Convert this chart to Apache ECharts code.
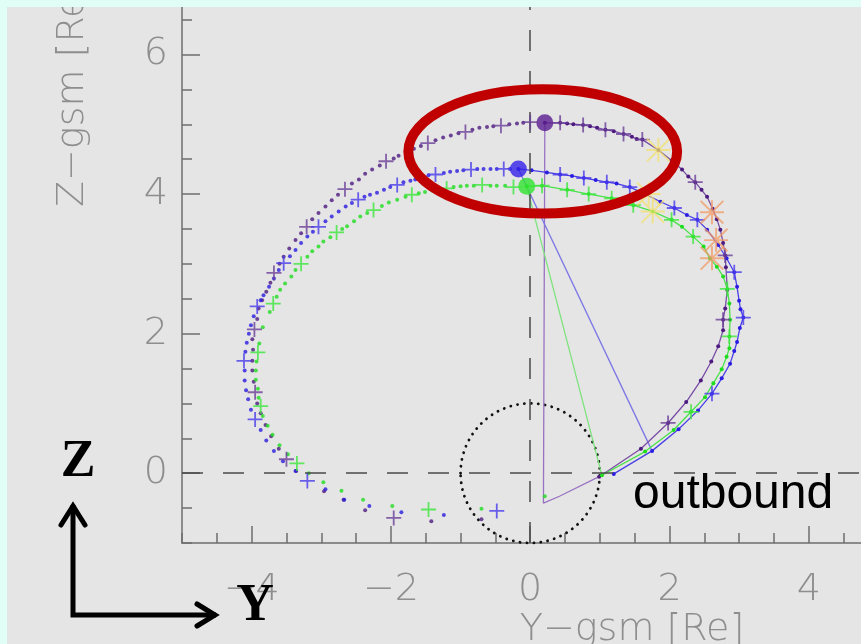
<!DOCTYPE html>
<html>
<head>
<meta charset="utf-8">
<script src="https://cdn.jsdelivr.net/npm/echarts@6/dist/echarts.min.js"></script>
<style>
  html, body { margin: 0; padding: 0; width: 861px; height: 644px; background: #e0fdf6; overflow: hidden; }
  #chart { position: absolute; left: 7px; top: 7px; width: 854px; height: 637px; }
</style>
</head>
<body>
<div id="chart"></div>
<script>
// Axis ranges and ticks (GSM coordinates, Earth radii)
const xRange = [-5, 4.75];
const yRange = [-1, 6.68];
const xMajorTicks = [-4, -2, 0, 2, 4];
const xMinorTicks = [-5, -4.5, -4, -3.5, -3, -2.5, -2, -1.5, -1, -0.5, 0, 0.5, 1, 1.5, 2, 2.5, 3, 3.5, 4, 4.5];
const yMajorTicks = [0, 2, 4, 6];
const yMinorTicks = [-1, -0.5, 0, 0.5, 1, 1.5, 2, 2.5, 3, 3.5, 4, 4.5, 5, 5.5, 6, 6.5];

// Orbit 1 (purple): connected outbound arc, then the loose dots
const purpleArc = [
  [0.99, -0.05], [1.59, 0.35], [1.98, 0.72], [2.24, 1.02], [2.45, 1.33], [2.60, 1.60], [2.70, 1.82],
  [2.77, 2.05], [2.77, 2.20], [2.80, 2.36], [2.83, 2.63], [2.81, 2.95], [2.80, 3.12], [2.77, 3.30],
  [2.73, 3.49], [2.68, 3.64], [2.62, 3.79], [2.54, 3.96], [2.46, 4.06], [2.37, 4.17], [2.27, 4.25],
  [2.18, 4.35], [2.03, 4.48], [1.84, 4.63], [1.61, 4.78], [1.53, 4.79], [1.46, 4.82], [1.34, 4.86],
  [1.20, 4.90], [1.08, 4.92], [0.96, 4.95], [0.86, 4.97], [0.76, 4.99], [0.62, 5.00], [0.53, 5.01],
  [0.43, 5.02], [0.21, 5.02]
];
const purpleDots = [
  [-0.10, 5.02], [-0.19, 5.01], [-0.30, 5.00], [-0.53, 4.97], [-0.62, 4.96], [-0.73, 4.95], [-0.83, 4.92],
  [-1.03, 4.87], [-1.14, 4.84], [-1.25, 4.81], [-1.36, 4.77], [-1.57, 4.69], [-1.67, 4.65], [-1.78, 4.61],
  [-1.89, 4.55], [-1.96, 4.51], [-2.16, 4.41], [-2.27, 4.35], [-2.37, 4.29], [-2.46, 4.21], [-2.56, 4.15],
  [-2.76, 3.99], [-2.85, 3.91], [-2.94, 3.82], [-3.04, 3.73], [-3.13, 3.64], [-3.29, 3.44], [-3.37, 3.34],
  [-3.46, 3.22], [-3.54, 3.10], [-3.60, 3.00], [-3.73, 2.73], [-3.79, 2.60], [-3.85, 2.48], [-3.90, 2.36],
  [-3.92, 2.21], [-3.99, 1.92], [-3.98, 1.77], [-3.99, 1.61], [-3.99, 1.47], [-3.97, 1.31], [-3.92, 1.00],
  [-3.87, 0.86], [-3.80, 0.69], [-3.72, 0.53], [-3.61, 0.35], [-3.36, 0.03], [-2.96, -0.26], [-2.68, -0.38],
  [-2.37, -0.53], [-1.42, -0.69], [-0.70, -0.66]
];
const purplePlus = [
  [1.98, 0.72], [2.77, 2.20], [2.80, 3.12], [2.37, 4.17], [1.61, 4.78], [1.34, 4.86], [1.08, 4.92],
  [0.76, 4.99], [0.43, 5.02], [0.00, 5.03], [-0.42, 4.98], [-0.93, 4.89], [-1.47, 4.73], [-2.07, 4.47],
  [-2.66, 4.07], [-3.21, 3.53], [-3.68, 2.87], [-3.96, 2.06], [-3.95, 1.16], [-3.50, 0.20], [-1.96, -0.64]
];
const purpleMark = [[0.21, 5.02]];
const purpleTrace = [[0.21, 5.02], [0.19, -0.43], [0.42, -0.33], [0.99, -0.05]];

// Orbit 2 (blue)
const blueArc = [
  [1.20, -0.01], [1.75, 0.32], [2.13, 0.63], [2.41, 0.90], [2.61, 1.14], [2.75, 1.36], [2.87, 1.57],
  [2.93, 1.75], [2.97, 1.88], [3.01, 2.08], [3.06, 2.23], [3.02, 2.35], [3.00, 2.47], [2.97, 2.67],
  [2.93, 2.88], [2.82, 3.08], [2.70, 3.27], [2.54, 3.49], [2.40, 3.63], [2.25, 3.70], [2.07, 3.80],
  [1.87, 3.89], [1.63, 4.01], [1.43, 4.10], [1.24, 4.15], [1.10, 4.17], [0.94, 4.20], [0.77, 4.23],
  [0.60, 4.26], [0.43, 4.28], [0.24, 4.31], [0.02, 4.34], [-0.17, 4.36]
];
const blueDots = [
  [-0.29, 4.36], [-0.48, 4.36], [-0.57, 4.36], [-0.67, 4.36], [-0.76, 4.36], [-0.96, 4.34], [-1.05, 4.33],
  [-1.15, 4.32], [-1.24, 4.30], [-1.46, 4.27], [-1.55, 4.25], [-1.65, 4.21], [-1.72, 4.19], [-1.82, 4.17],
  [-2.01, 4.10], [-2.10, 4.06], [-2.20, 4.02], [-2.30, 3.99], [-2.38, 3.96], [-2.56, 3.87], [-2.65, 3.82],
  [-2.75, 3.75], [-2.85, 3.68], [-2.94, 3.61], [-3.12, 3.46], [-3.20, 3.39], [-3.29, 3.30], [-3.37, 3.20],
  [-3.45, 3.11], [-3.61, 2.91], [-3.68, 2.79], [-3.75, 2.67], [-3.83, 2.55], [-3.87, 2.48], [-3.97, 2.25],
  [-4.01, 2.12], [-4.04, 2.00], [-4.07, 1.87], [-4.09, 1.74], [-4.10, 1.47], [-4.10, 1.33], [-4.08, 1.19],
  [-4.05, 1.06], [-4.01, 0.91], [-3.87, 0.62], [-3.79, 0.47], [-3.68, 0.32], [-3.55, 0.17], [-3.37, 0.03],
  [-2.94, -0.23], [-2.67, -0.38], [-2.31, -0.47], [-1.85, -0.56], [-1.24, -0.60]
];
const bluePlus = [
  [2.61, 1.14], [3.06, 2.23], [2.93, 2.88], [2.40, 3.63], [2.07, 3.80], [1.43, 4.10], [1.10, 4.17],
  [0.77, 4.23], [0.43, 4.28], [-0.38, 4.36], [-0.85, 4.35], [-1.36, 4.28], [-1.91, 4.13], [-2.47, 3.92],
  [-3.04, 3.53], [-3.54, 3.01], [-3.92, 2.39], [-4.11, 1.61], [-3.95, 0.77], [-3.20, -0.11], [-0.48, -0.54]
];
const blueMark = [[-0.17, 4.36]];
const blueTrace = [[-0.17, 4.36], [1.75, 0.32]];

// Orbit 3 (green)
const greenArc = [
  [1.03, -0.03], [1.65, 0.31], [2.06, 0.62], [2.31, 0.88], [2.51, 1.09], [2.63, 1.29], [2.75, 1.49],
  [2.82, 1.67], [2.86, 1.79], [2.86, 1.96], [2.87, 2.20], [2.86, 2.43], [2.83, 2.64], [2.77, 2.82],
  [2.68, 2.96], [2.58, 3.08], [2.49, 3.25], [2.34, 3.39], [2.18, 3.53], [2.03, 3.63], [1.76, 3.75],
  [1.48, 3.84], [1.17, 3.94], [0.84, 4.00], [0.53, 4.06], [0.17, 4.12], [-0.05, 4.11]
];
const greenDots = [
  [-0.36, 4.12], [-0.48, 4.12], [-0.57, 4.12], [-0.81, 4.12], [-0.91, 4.12], [-1.00, 4.11], [-1.10, 4.10],
  [-1.30, 4.07], [-1.41, 4.05], [-1.51, 4.03], [-1.60, 4.01], [-1.79, 3.96], [-1.91, 3.92], [-2.03, 3.88],
  [-2.13, 3.83], [-2.34, 3.73], [-2.44, 3.68], [-2.53, 3.61], [-2.63, 3.54], [-2.70, 3.50], [-2.87, 3.38],
  [-2.97, 3.32], [-3.04, 3.25], [-3.13, 3.18], [-3.20, 3.10], [-3.37, 2.91], [-3.43, 2.82], [-3.52, 2.72],
  [-3.59, 2.63], [-3.64, 2.53], [-3.74, 2.31], [-3.84, 2.09], [-3.89, 1.86], [-3.93, 1.60], [-3.94, 1.47],
  [-3.94, 1.34], [-3.91, 1.21], [-3.90, 1.08], [-3.84, 0.82], [-3.77, 0.68], [-3.70, 0.55], [-3.60, 0.40],
  [-3.48, 0.27], [-3.18, 0.00], [-2.97, -0.13], [-2.71, -0.25], [-2.40, -0.38], [-1.98, -0.47], [-0.70, -0.51],
  [0.21, -0.33]
];
const greenPlus = [
  [2.31, 0.88], [2.86, 1.96], [2.83, 2.64], [2.34, 3.39], [2.03, 3.63], [1.48, 3.84], [1.17, 3.94],
  [0.84, 4.00], [0.53, 4.06], [0.17, 4.12], [-0.24, 4.10], [-0.69, 4.13], [-1.20, 4.08], [-1.70, 3.99],
  [-2.25, 3.77], [-2.78, 3.45], [-3.29, 3.00], [-3.69, 2.43], [-3.91, 1.73], [-3.87, 0.96], [-3.35, 0.14],
  [-1.46, -0.52]
];
const greenMark = [[-0.05, 4.11]];
const greenTrace = [[-0.05, 4.11], [1.03, -0.03]];

// Boundary crossings marked with asterisks
const yellowStars = [[1.84, 4.63], [1.70, 4.00], [1.76, 3.75]];
const orangeStars = [[2.61, 3.74], [2.67, 3.34], [2.61, 3.08]];

// Earth (radius 1 Re) and the highlighted region around the apex
const earthCenter = [0, 0];
const earthRadius = 1;
const highlightCenter = [0.18, 4.61];
const highlightRadii = [1.93, 0.89];

const PLUS = 'path://M4.4,0H5.6V10H4.4Z M0,4.4H10V5.6H0Z';
const STAR = 'path://M4.6,0H5.4V10H4.6Z M0,4.6H10V5.4H0Z M0,0.55L0.55,0L10,9.45L9.45,10Z M9.45,0L10,0.55L0.55,10L0,9.45Z';

const axisGray = '#6e6e6e';
const labelGray = '#8e8e8e';
const axisFontFamily = '"DejaVu Sans", Roboto, sans-serif';
const tickFont = { color: labelGray, fontSize: 38, fontFamily: axisFontFamily, fontWeight: 200 };
const fmt = v => (v < 0 ? '\u2212' + (-v) : String(v));

function arc(data, color, lineColor) {
  return { type: 'line', data, symbol: 'circle', symbolSize: 4, showSymbol: true,
    itemStyle: { color }, lineStyle: { color: lineColor, width: 1.3 }, z: 4, silent: true };
}
function dots(data, color, size) {
  return { type: 'scatter', data, symbol: 'circle', symbolSize: size || 4, itemStyle: { color }, z: 4, silent: true };
}
function plus(data, color) {
  return { type: 'scatter', data, symbol: PLUS, symbolSize: 15, itemStyle: { color }, z: 5, silent: true };
}
function trace(data, color) {
  return { type: 'line', data, symbol: 'none', lineStyle: { color, width: 1.3 }, z: 3, silent: true };
}
function star(data, color) {
  return { type: 'scatter', data, symbol: STAR, symbolSize: 24, itemStyle: { color, opacity: 0.75 }, z: 6, silent: true };
}

const chart = echarts.init(document.getElementById('chart'), null, { renderer: 'canvas' });

const option = {
  animation: false,
  backgroundColor: '#e5e5e5',
  grid: { left: 175, right: 0, top: 0, bottom: 101, containLabel: false },
  xAxis: [
    { type: 'value', min: xRange[0], max: xRange[1], position: 'bottom',
      axisLine: { show: true, onZero: false, lineStyle: { color: axisGray, width: 1.5 } },
      axisTick: { show: true, inside: true, length: 10, customValues: xMinorTicks, lineStyle: { color: axisGray, width: 1.5 } },
      axisLabel: { show: false }, splitLine: { show: false } },
    { type: 'value', min: xRange[0], max: xRange[1], position: 'bottom',
      axisLine: { show: false, onZero: false },
      axisTick: { show: true, inside: true, length: 17, customValues: xMajorTicks, lineStyle: { color: axisGray, width: 1.5 } },
      axisLabel: Object.assign({ show: true, margin: 28, customValues: xMajorTicks, formatter: fmt }, tickFont),
      splitLine: { show: false } }
  ],
  yAxis: [
    { type: 'value', min: yRange[0], max: yRange[1], position: 'left',
      axisLine: { show: true, onZero: false, lineStyle: { color: axisGray, width: 1.5 } },
      axisTick: { show: true, inside: true, length: 10, customValues: yMinorTicks, lineStyle: { color: axisGray, width: 1.5 } },
      axisLabel: { show: false }, splitLine: { show: false } },
    { type: 'value', min: yRange[0], max: yRange[1], position: 'left',
      axisLine: { show: false, onZero: false },
      axisTick: { show: true, inside: true, length: 18, customValues: yMajorTicks, lineStyle: { color: axisGray, width: 1.5 } },
      axisLabel: Object.assign({ show: true, margin: 14, customValues: yMajorTicks, formatter: fmt }, tickFont),
      splitLine: { show: false } }
  ],
  series: [
    { type: 'scatter', data: [], z: 2, silent: true,
      markLine: { silent: true, symbol: 'none', label: { show: false },
        lineStyle: { color: '#4a4a4a', type: [21, 20], width: 1.5 },
        data: [{ xAxis: 0 }, { yAxis: 0 }] } },
    trace(purpleTrace, '#9a72c2'),
    trace(blueTrace, '#7b76e6'),
    trace(greenTrace, '#7ee37e'),
    arc(purpleArc, '#4d1a7f', '#7a4ea6'),
    arc(blueArc, '#2a1ce0', '#4a3fe6'),
    arc(greenArc, '#1fdc1f', '#4ae24a'),
    dots(purpleDots, '#4d1a7f'),
    dots(blueDots, '#2a1ce0'),
    dots(greenDots, '#1fdc1f'),
    plus(purplePlus, '#6a3f98'),
    plus(bluePlus, '#4a3ceb'),
    plus(greenPlus, '#3ce63c'),
    star(yellowStars, '#f3e06c'),
    star(orangeStars, '#f29a66'),
    dots(purpleMark, '#5a1d90', 17),
    dots(blueMark, '#3322e8', 17),
    dots(greenMark, '#2ee22e', 17)
  ],
  graphic: [
    // axis titles
    { type: 'text', id: 'ztitle', x: 66, y: 200, rotation: Math.PI / 2, z: 50, silent: true,
      style: { text: 'Z\u2212gsm [Re]', fill: labelGray, font: '200 38px ' + axisFontFamily,
        align: 'left', verticalAlign: 'middle', textAlign: 'left', textVerticalAlign: 'middle' } },
    { type: 'text', id: 'ytitle', x: 625, y: 604, z: 50, silent: true,
      style: { text: 'Y\u2212gsm [Re]', fill: labelGray, font: '200 38px ' + axisFontFamily,
        align: 'center', verticalAlign: 'top', textAlign: 'center', textVerticalAlign: 'top' } },
    // orientation arrows
    { type: 'polyline', id: 'axesArrow', z: 60, silent: true,
      shape: { points: [[66, 498], [66, 608], [209, 608]] },
      style: { stroke: '#000', lineWidth: 5, fill: 'none', lineJoin: 'miter' } },
    { type: 'polyline', id: 'headUp', z: 60, silent: true,
      shape: { points: [[54, 518], [66, 499], [78, 518]] },
      style: { stroke: '#000', lineWidth: 5, fill: 'none', lineJoin: 'miter', lineCap: 'round' } },
    { type: 'polyline', id: 'headRight', z: 60, silent: true,
      shape: { points: [[190, 597], [208, 608], [190, 619]] },
      style: { stroke: '#000', lineWidth: 5, fill: 'none', lineJoin: 'miter', lineCap: 'round' } },
    { type: 'text', id: 'zLetter', x: 71, y: 456, z: 61, silent: true,
      style: { text: 'Z', fill: '#000', font: 'bold 52px "Liberation Serif", "DejaVu Serif", serif',
        align: 'center', verticalAlign: 'middle', textAlign: 'center', textVerticalAlign: 'middle' } },
    { type: 'text', id: 'yLetter', x: 248, y: 600, z: 61, silent: true,
      style: { text: 'Y', fill: '#000', font: 'bold 52px "Liberation Serif", "DejaVu Serif", serif',
        align: 'center', verticalAlign: 'middle', textAlign: 'center', textVerticalAlign: 'middle' } },
    { type: 'text', id: 'outbound', x: 626, y: 488, z: 61, silent: true,
      style: { text: 'outbound', fill: '#000', font: '48px "Liberation Sans", Arial, sans-serif',
        align: 'left', verticalAlign: 'middle', textAlign: 'left', textVerticalAlign: 'middle' } }
  ]
};

chart.setOption(option);

// Earth outline and highlight ellipse placed through the axis scales
const finder = { seriesIndex: 1 };
const toPx = p => chart.convertToPixel(finder, p);
const ec = toPx(earthCenter);
const erx = toPx([earthCenter[0] + earthRadius, earthCenter[1]])[0] - ec[0];
const ery = ec[1] - toPx([earthCenter[0], earthCenter[1] + earthRadius])[1];
const hc = toPx(highlightCenter);
const hrx = toPx([highlightCenter[0] + highlightRadii[0], highlightCenter[1]])[0] - hc[0];
const hry = hc[1] - toPx([highlightCenter[0], highlightCenter[1] + highlightRadii[1]])[1];

chart.setOption({
  graphic: [
    { type: 'ellipse', id: 'earth', z: 1, silent: true,
      shape: { cx: ec[0], cy: ec[1], rx: erx, ry: ery },
      style: { fill: 'none', stroke: '#111', lineWidth: 2.8, lineDash: [0.1, 6.8], lineCap: 'round' } },
    { type: 'ellipse', id: 'highlight', z: 40, silent: true,
      shape: { cx: hc[0], cy: hc[1], rx: hrx, ry: hry },
      style: { fill: 'none', stroke: '#c00000', lineWidth: 10 } }
  ]
});
</script>
</body>
</html>
